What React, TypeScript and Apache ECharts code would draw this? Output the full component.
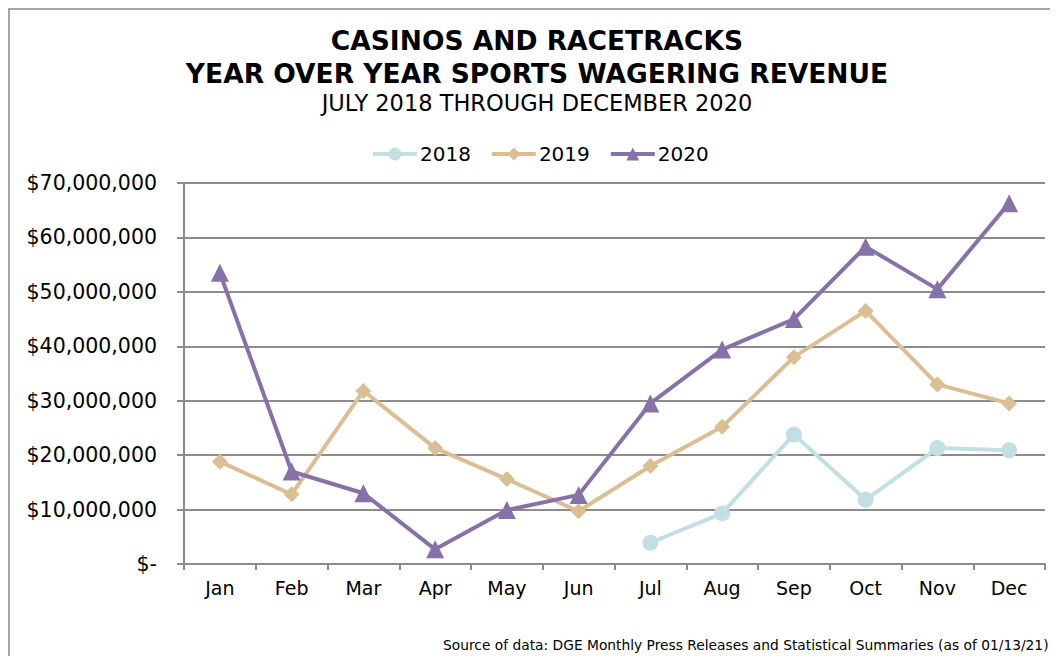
import React, { useEffect, useRef } from "react";
import * as echarts from "echarts";

const months = ["Jan", "Feb", "Mar", "Apr", "May", "Jun", "Jul", "Aug", "Sep", "Oct", "Nov", "Dec"];
const revenue2018 = [null, null, null, null, null, null, 3900000, 9300000, 23800000, 11800000, 21300000, 20900000];
const revenue2019 = [18800000, 12800000, 31800000, 21300000, 15600000, 9700000, 18000000, 25200000, 38000000, 46500000, 33000000, 29500000];
const revenue2020 = [53500000, 17000000, 13000000, 2700000, 9900000, 12700000, 29500000, 39400000, 45000000, 58300000, 50500000, 66300000];
const yTicks = { min: 0, max: 70000000, interval: 10000000 };

const FONT = "'DejaVu Sans', Verdana, sans-serif";
const C2018 = "#c3dfe3";
const C2019 = "#dabf94";
const C2020 = "#8672a6";

export default function App() {
  const ref = useRef<HTMLDivElement>(null);
  useEffect(() => {
    if (!ref.current) return;
    const chart = echarts.init(ref.current, undefined, { renderer: "svg" });
    const lineSeries = (name: string, data: (number | null)[], color: string, symbol: string, size: number) => ({
      name,
      type: "line",
      data,
      symbol,
      symbolSize: size,
      showSymbol: true,
      connectNulls: false,
      lineStyle: { color, width: 4 },
      itemStyle: { color },
      emphasis: { disabled: true },
    });
    chart.setOption({
      animation: false,
      backgroundColor: "#ffffff",
      title: {
        text: "CASINOS AND RACETRACKS\nYEAR OVER YEAR SPORTS WAGERING REVENUE",
        subtext: "JULY 2018 THROUGH DECEMBER 2020",
        left: 524,
        top: 11,
        textAlign: "center",
        itemGap: 0,
        textStyle: { fontFamily: FONT, fontSize: 26.5, fontWeight: "bold", color: "#000", lineHeight: 33 },
        subtextStyle: { fontFamily: FONT, fontSize: 22.5, color: "#000", lineHeight: 26 },
      },
      legend: {
        top: 131,
        left: 358,
        data: ["2018", "2019", "2020"],
        itemWidth: 44,
        itemHeight: 16,
        itemGap: 19,
        lineStyle: { width: 4 },
        textStyle: { fontFamily: FONT, fontSize: 20, color: "#000", padding: [0, 0, 0, -2] },
      },
      grid: { left: 176, right: 13, top: 175, bottom: 92, containLabel: false },
      xAxis: {
        type: "category",
        data: months,
        boundaryGap: true,
        axisLine: { lineStyle: { color: "#8c8c8c", width: 2 } },
        axisTick: { show: true, length: 6, lineStyle: { color: "#8c8c8c", width: 2 } },
        axisLabel: { fontFamily: FONT, fontSize: 19, color: "#000", margin: 14 },
      },
      yAxis: {
        type: "value",
        min: yTicks.min,
        max: yTicks.max,
        interval: yTicks.interval,
        axisLine: { show: true, lineStyle: { color: "#8c8c8c", width: 2 } },
        axisTick: { show: true, length: 7, lineStyle: { color: "#8c8c8c", width: 2 } },
        splitLine: { lineStyle: { color: "#8c8c8c", width: 2 } },
        axisLabel: {
          fontFamily: FONT,
          fontSize: 20.5,
          color: "#000",
          margin: 27,
          formatter: (v: number) => (v === 0 ? "$-" : "$" + v.toLocaleString("en-US")),
        },
      },
      series: [
        lineSeries("2018", revenue2018, C2018, "circle", 16),
        lineSeries("2019", revenue2019, C2019, "diamond", 16),
        lineSeries("2020", revenue2020, C2020, "triangle", 18),
      ],
      graphic: [
        {
          type: "rect",
          shape: { x: 1, y: 1, width: 1200, height: 800 },
          style: { fill: "none", stroke: "#a6a6a6", lineWidth: 2 },
          silent: true,
        },
        {
          type: "text",
          left: 435,
          top: 630,
          style: {
            text: "Source of data: DGE Monthly Press Releases and Statistical Summaries (as of 01/13/21)",
            fontFamily: FONT,
            fontSize: 13.8,
            fill: "#000",
          },
        },
      ],
    });
    return () => chart.dispose();
  }, []);
  return <div ref={ref} style={{ width: 1050, height: 648 }} />;
}
